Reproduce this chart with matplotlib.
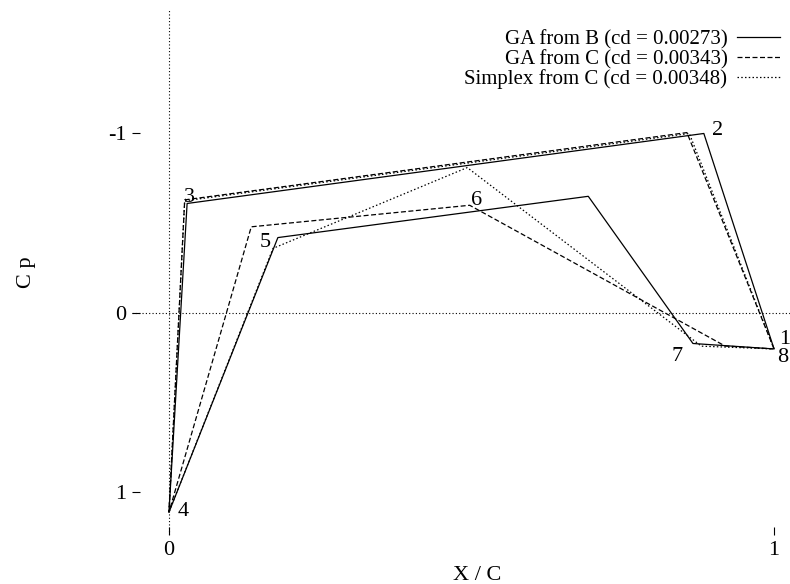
import matplotlib
matplotlib.use("Agg")
import matplotlib.pyplot as plt

# 날개 표면 Cp 분포 — 점 1..8 (뒷전 -> 윗면 -> 앞전 -> 아랫면 -> 뒷전)
ga_b_x = [1.0, 0.884, 0.030, 0.0, 0.180, 0.693, 0.866, 0.998]
ga_b_cp = [0.20, -1.00, -0.61, 1.11, -0.42, -0.65, 0.17, 0.20]

ga_c_x = [1.0, 0.856, 0.026, 0.0, 0.136, 0.497, 0.919, 0.998]
ga_c_cp = [0.20, -1.005, -0.63, 1.11, -0.48, -0.60, 0.184, 0.20]

sx_c_x = [1.0, 0.860, 0.026, 0.0, 0.172, 0.493, 0.880, 0.998]
sx_c_cp = [0.20, -1.00, -0.625, 1.11, -0.36, -0.81, 0.185, 0.20]

series_labels = ["GA from B (cd = 0.00273)", "GA from C (cd = 0.00343)",
                 "Simplex from C (cd = 0.00348)"]
point_names = ["1", "2", "3", "4", "5", "6", "7", "8"]

x_ticks = [0, 1]
y_ticks = [-1, 0, 1]

plt.rcParams["font.family"] = ["Liberation Serif", "DejaVu Serif"]
FS = 16

fig = plt.figure(figsize=(7.9, 5.84), dpi=100)
ax = fig.add_axes([0.167, 0.0839, 0.833, 0.899])

ax.axhline(0, color="black", lw=0.8, ls=(0, (1, 2)), zorder=1)
ax.axvline(0, color="black", lw=0.8, ls=(0, (1, 2)), zorder=1)

l1, = ax.plot(ga_b_x, ga_b_cp, color="black", lw=0.9, ls="-")
l2, = ax.plot(ga_c_x, ga_c_cp, color="black", lw=0.9, ls=(0, (4, 2)))
l3, = ax.plot(sx_c_x, sx_c_cp, color="black", lw=0.9, ls=(0, (1.2, 1.8)))

# 점 번호 — 실선(GA from B) 점 기준, 픽셀 오프셋 (6번만 점선 C 기준)
offsets = [(11, 9), (14, 3), (2, 6), (14, 1), (-13, -5), None, (-16, -13), (10, -9)]
for i, name in enumerate(point_names):
    if offsets[i] is None:
        px, py = ga_c_x[i], ga_c_cp[i]
        off = (7, 5)
    else:
        px, py = ga_b_x[i], ga_b_cp[i]
        off = offsets[i]
    ax.annotate(name, (px, py), xytext=(off[0] * 0.72, off[1] * 0.72),
                textcoords="offset points", ha="center", va="center", fontsize=FS)

ax.set_xlim(-0.0612, 1.0264)
ax.set_ylim(1.237, -1.688)

ax.set_xticks(x_ticks)
ax.set_xticklabels([str(t) for t in x_ticks], fontsize=FS)
ax.set_yticks(y_ticks)
ax.set_yticklabels([str(t) for t in y_ticks], fontsize=FS)
ax.tick_params(axis="both", direction="in", length=6, width=0.8)
ax.tick_params(axis="x", pad=4.5)
ax.tick_params(axis="y", pad=3.8)
for s in ax.spines.values():
    s.set_visible(False)

fig.text(477 / 790, 1 - 575 / 584, "X / C", ha="center", va="center", fontsize=FS)
fig.text(27 / 790, 1 - 272 / 584, "C p", ha="center", va="center", fontsize=FS,
         rotation=90)

leg = ax.legend([l1, l2, l3], series_labels, loc="upper right",
                bbox_to_anchor=(0.985, 0.962), frameon=False, fontsize=15,
                markerfirst=False, handlelength=2.05, handletextpad=0.48,
                labelspacing=0.0, borderaxespad=0, borderpad=0)
for t in leg.get_texts():
    t.set_ha("right")
leg._legend_box.align = "right"

plt.savefig("out.png", dpi=100)
